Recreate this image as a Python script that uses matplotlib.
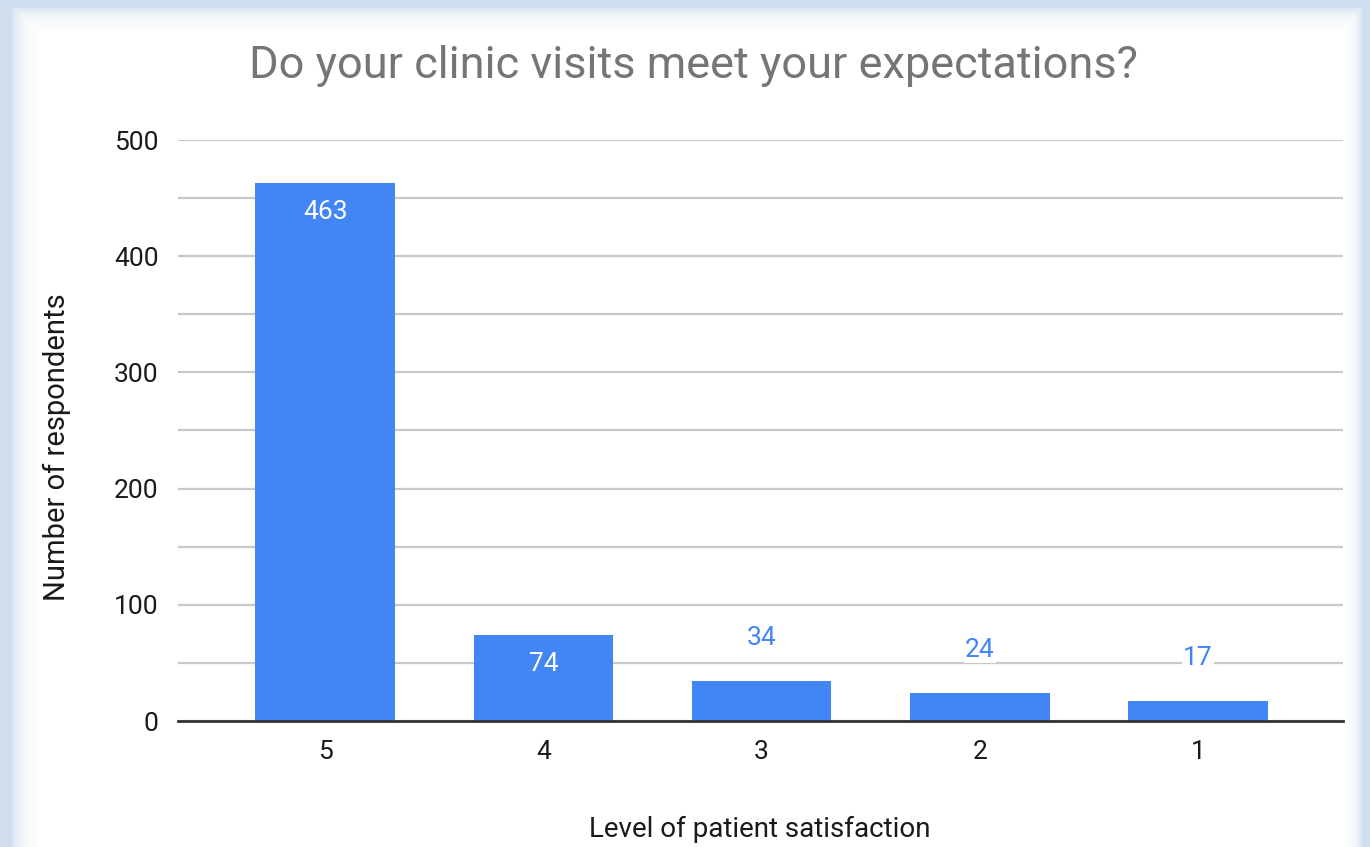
import matplotlib
matplotlib.use("Agg")
import matplotlib.pyplot as plt
from matplotlib.patches import Rectangle
import numpy as np

categories = ["5", "4", "3", "2", "1"]
values = [463, 74, 34, 24, 17]
inside_labels = [True, True, False, False, False]

plt.rcParams['font.family'] = ['Roboto', 'DejaVu Sans']

W, H = 1370, 847
fig = plt.figure(figsize=(W/100, H/100), dpi=100)
fig.patch.set_facecolor('#d0dfef')

# white panel with soft edges (layered to mimic a blur)
n = 10
for i in range(n):
    t = i / (n - 1)
    x0 = (12 + 26 * t) / W
    x1 = (1362 - 16 * t) / W
    y1 = (H - 8 - 22 * t) / H
    fig.patches.append(Rectangle((x0, -0.05), x1 - x0, y1 + 0.05,
                                 transform=fig.transFigure, facecolor='white',
                                 edgecolor='none', alpha=(1.0 if i == n - 1 else 0.28),
                                 zorder=-5))

ax = fig.add_axes([178/W, 1 - 721/H, (1343-178)/W, (721-140)/H])
ax.set_zorder(2)
ax.set_facecolor('none')
x = np.arange(len(categories))
bars = ax.bar(x, values, width=0.64, color='#4285f4', zorder=3)

ax.set_xlim(-0.675, len(categories) - 1 + 0.665)
ax.set_ylim(0, 500)
ax.set_yticks(np.arange(0, 501, 100))
ax.set_yticks(np.arange(50, 501, 100), minor=True)
ax.tick_params(axis='y', which='both', length=0, labelsize=19, colors='#1a1a1a', pad=14)
ax.tick_params(axis='x', length=0, labelsize=19, colors='#1a1a1a', pad=14)
ax.set_xticks(x)
ax.set_xticklabels(categories)
ax.grid(axis='y', which='both', color='#c8c8c8', linewidth=1.6, zorder=0)
for s in ['top', 'right', 'left']:
    ax.spines[s].set_visible(False)
ax.spines['bottom'].set_color('#333333')
ax.spines['bottom'].set_linewidth(2.0)
ax.spines['bottom'].set_zorder(4)

for xi, v, inside in zip(x, values, inside_labels):
    if inside:
        ax.annotate(str(v), (xi, v), xytext=(0, -21), textcoords='offset points',
                    ha='center', va='center', color='white', fontsize=19, zorder=5)
    else:
        ax.annotate(str(v), (xi, v), xytext=(0, 31), textcoords='offset points',
                    ha='center', va='center', color='#4285f4', fontsize=19, zorder=5,
                    bbox=dict(facecolor='white', edgecolor='none', pad=1))

fig.text(693/W, 1 - 66/H, "Do your clinic visits meet your expectations?",
         ha='center', va='center', fontsize=32.5, color='#757575')
fig.text(57/W, 1 - 447/H, "Number of respondents", rotation=90,
         ha='center', va='center', fontsize=21, color='#1a1a1a')
fig.text(760/W, 1 - 829/H, "Level of patient satisfaction",
         ha='center', va='center', fontsize=20, color='#1a1a1a')

fig.savefig("out.png", dpi=100, facecolor=fig.get_facecolor())
